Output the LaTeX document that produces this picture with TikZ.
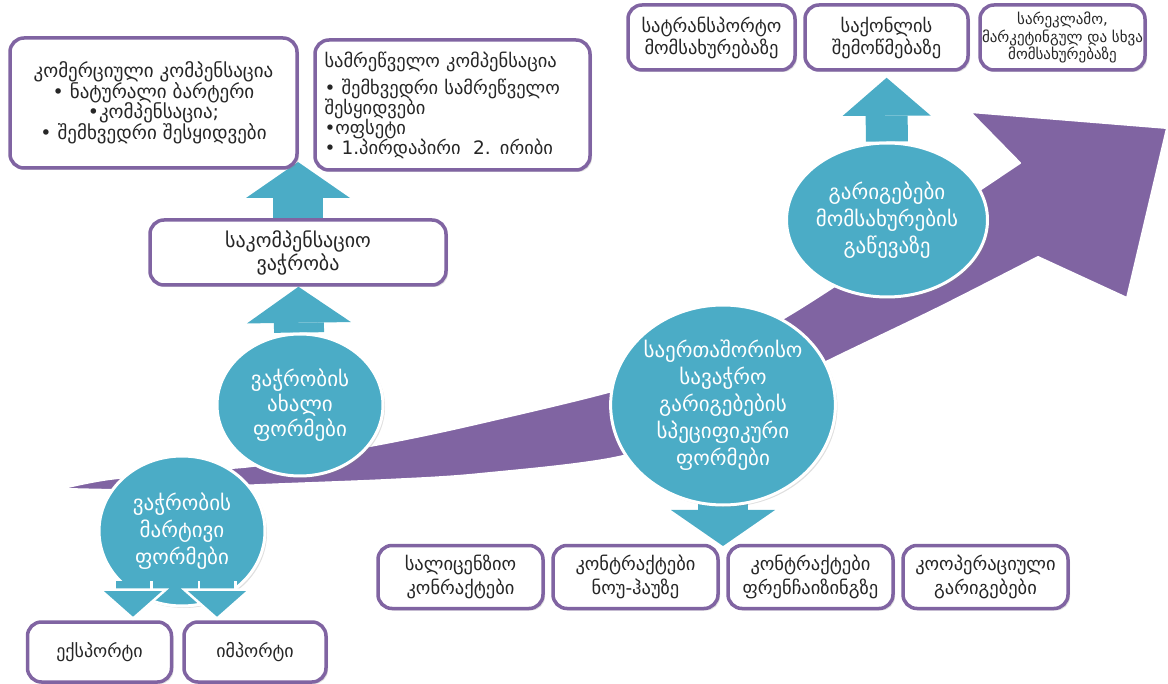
\documentclass[tikz,border=0pt]{standalone}
\usepackage{fontspec}
\setmainfont{DejaVu Sans}
\usetikzlibrary{arrows.meta,shapes.geometric,shadows}

\definecolor{rimpurple}{HTML}{8064A2}
\definecolor{bandpurple}{HTML}{8064A2}
\definecolor{ballblue}{HTML}{4BACC6}

\pgfdeclarelayer{bg}
\pgfsetlayers{bg,main}

\begin{document}
\begin{tikzpicture}[x=1pt, y=-1pt,
    box/.style={draw=rimpurple, line width=3.5pt, rounded corners=14pt, fill=white,
      text=black!85, align=center, inner sep=2pt, font=\fontsize{17.5}{20}\selectfont,
      drop shadow={shadow xshift=2pt, shadow yshift=-2pt, opacity=.25, fill=black!50}},
    ball/.style={ellipse, draw=white, line width=3pt, fill=ballblue, text=white,
      align=center, inner sep=0pt, font=\fontsize{21}{27}\selectfont,
      drop shadow={shadow xshift=2pt, shadow yshift=-2pt, opacity=.25, fill=black!50}},
    flow/.style={draw=ballblue, line width=50pt, -{Triangle[width=104pt,length=36pt,line width=0pt]}},
    flowsmall/.style={draw=ballblue, line width=42pt, -{Triangle[width=88pt,length=38pt,line width=0pt]}},
    flowtop/.style={draw=ballblue, line width=34pt,
      -{Triangle[width=72pt,length=32pt,fill=ballblue,color=white,line width=2.5pt]},
      preaction={draw=white, line width=39pt, -, shorten >=29pt}}]
    \useasboundingbox (0,0) rectangle (1168,684);

    % top row
    \node[box, minimum width=287pt, minimum height=130pt, font=\fontsize{19}{20.5}\selectfont] (A) at (153.5,103)
      {კომერციული\ კომპენსაცია\\ • ნატურალი\ ბარტერი\\ •კომპენსაცია;\\ • შემხვედრი შესყიდვები};
    \node[box, align=left, text width=256pt, minimum width=275pt, minimum height=130pt,
      font=\fontsize{18.5}{20}\selectfont] (B) at (452.5,105)
      {სამრეწველო კომპენსაცია\\[7pt] • შემხვედრი სამრეწველო\\ შესყიდვები\\ •ოფსეტი\\ • 1.პირდაპირი\ \ 2. ირიბი};
    \node[box, minimum width=167pt, minimum height=65pt, font=\fontsize{18.5}{22}\selectfont] (C1) at (711.5,37.5)
      {სატრანსპორტო\\მომსახურებაზე};
    \node[box, minimum width=163pt, minimum height=65pt, font=\fontsize{18.5}{22}\selectfont] (C2) at (886.5,37.5)
      {საქონლის\\შემოწმებაზე};
    \node[box, minimum width=165pt, minimum height=65pt, font=\fontsize{15}{17.5}\selectfont] (C3) at (1062.5,37.5)
      {სარეკლამო,\\მარკეტინგულ და სხვა\\მომსახურებაზე};
    \node[box, minimum width=296pt, minimum height=65pt, font=\fontsize{20}{23}\selectfont] (D) at (298,252.5)
      {საკომპენსაციო\\ვაჭრობა};

    % circles
    \node[ball, minimum width=166pt, minimum height=142pt, font=\fontsize{21}{25}\selectfont] (E) at (300,405)
      {ვაჭრობის\\ახალი\\ფორმები};
    \node[ball, minimum width=166pt, minimum height=150pt] (F) at (182,531) {ვაჭრობის\\მარტივი\\ფორმები};
    \node[ball, minimum width=206pt, minimum height=200pt] (I) at (723,405)
      {საერთაშორისო\\სავაჭრო\\გარიგებების\\სპეციფიკური\\ფორმები};
    \node[ball, minimum width=172pt, minimum height=154pt] (J) at (887,220) {გარიგებები\\მომსახურების\\გაწევაზე};

    % bottom row
    \node[box, minimum width=144pt, minimum height=60pt, font=\fontsize{18}{20}\selectfont] (G) at (99.5,652) {ექსპორტი};
    \node[box, minimum width=142pt, minimum height=60pt, font=\fontsize{18}{20}\selectfont] (H) at (255,652) {იმპორტი};
    \node[box, minimum width=165pt, minimum height=63pt, font=\fontsize{18.5}{24}\selectfont] (K1) at (460.5,577)
      {სალიცენზიო\\კონრაქტები};
    \node[box, minimum width=165pt, minimum height=63pt, font=\fontsize{18.5}{24}\selectfont] (K2) at (635.5,577)
      {კონტრაქტები\\ნოუ-ჰაუზე};
    \node[box, minimum width=165pt, minimum height=63pt, font=\fontsize{18.5}{24}\selectfont] (K3) at (810.5,577)
      {კონტრაქტები\\ფრენჩაიზინგზე};
    \node[box, minimum width=165pt, minimum height=63pt, font=\fontsize{18.5}{24}\selectfont] (K4) at (985.5,577)
      {კოოპერაციული\\გარიგებები};

    \coordinate (gapAB) at (298,162);
    \coordinate (gapK) at (723,546);

    % arrows out of the simple forms
    \draw[flowtop] ([xshift=-49pt,yshift=-50pt]F.center) -- ([xshift=33.5pt]G.north);
    \draw[flowtop] ([xshift=35pt,yshift=-50pt]F.center) -- ([xshift=-38pt]H.north);

    \begin{pgfonlayer}{bg}
      % big curved arrow
      \filldraw[fill=bandpurple, draw=white, line width=2pt, line join=round]
        plot[smooth] coordinates {(68,487) (110,479) (200,470) (260,465) (386,443) (480,423)
          (623,388) (720,352) (794,312) (900,243) (1020,163)}
        -- (970,112) -- (1167,128) -- (1127,298) -- (1038,257)
        -- plot[smooth] coordinates {(1038,257) (938,308) (830,360) (720,415) (623,456)
          (480,474) (386,480) (260,485) (150,490) (68,489)}
        -- cycle;

      % block arrows
      \draw[flow] (E) -- (D);
      \draw[flow] (D) -- (gapAB);
      \draw[flowsmall, shorten >=6pt] (J) -- (C2);
      \draw[flow] (I.center) -- (gapK);
    \end{pgfonlayer}
\end{tikzpicture}
\end{document}
